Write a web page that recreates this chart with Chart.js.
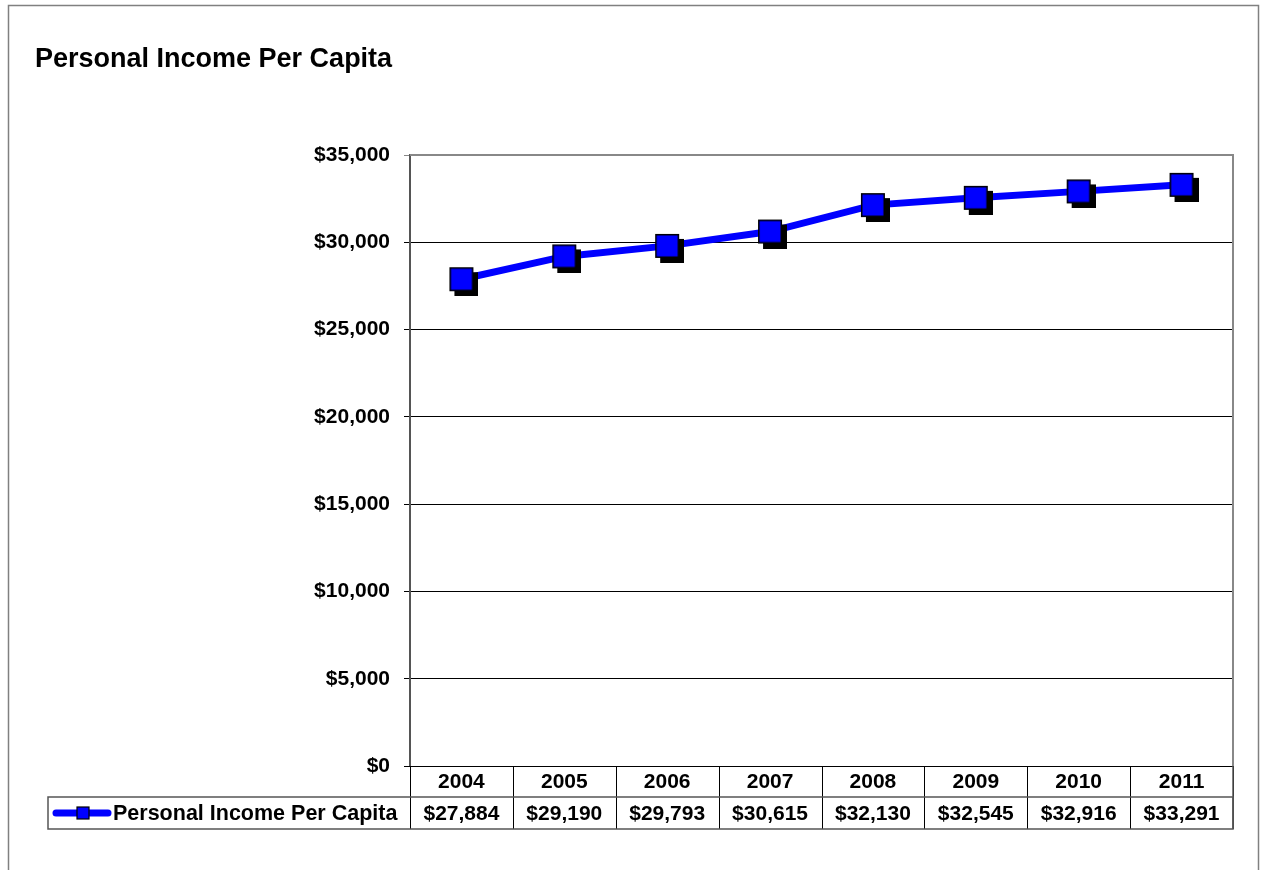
<!DOCTYPE html>
<html>
<head>
<meta charset="utf-8">
<title>Personal Income Per Capita</title>
<script src="https://cdn.jsdelivr.net/npm/chart.js@4.4.1/dist/chart.umd.min.js"></script>
<style>
  body { margin: 0; background: #fff; }
  #wrap { width: 1263px; height: 870px; }
</style>
</head>
<body>
<div id="wrap"><canvas id="incomeChart" width="1263" height="870"></canvas></div>
<script>
const chartTitle = 'Personal Income Per Capita';
const seriesName = 'Personal Income Per Capita';
const years = ['2004', '2005', '2006', '2007', '2008', '2009', '2010', '2011'];
const incomePerCapita = [27884, 29190, 29793, 30615, 32130, 32545, 32916, 33291];

const FONT = '"Liberation Sans", Arial, sans-serif';
const money = v => '$' + Number(v).toLocaleString('en-US');

// square marker with a black drop shadow, centred on the point
function makeMarker(size, shadow) {
  const c = document.createElement('canvas');
  c.width = size + shadow * 2;
  c.height = size + shadow * 2;
  const g = c.getContext('2d');
  g.fillStyle = '#000';
  g.fillRect(shadow * 2, shadow * 2, size, size);
  g.fillStyle = '#0000ff';
  g.fillRect(shadow, shadow, size, size);
  g.strokeStyle = '#000';
  g.lineWidth = 1.5;
  g.strokeRect(shadow + 0.75, shadow + 0.75, size - 1.5, size - 1.5);
  return c;
}
const marker = makeMarker(24, 5);

// frame, title, plot border and the data table under the axis
const tableDecor = {
  id: 'tableDecor',
  afterDraw(chart) {
    const ctx = chart.ctx;
    const area = chart.chartArea;
    const x = chart.scales.x;
    ctx.save();

    ctx.strokeStyle = '#808080';
    ctx.lineWidth = 1.5;
    ctx.strokeRect(8.5, 5.5, 1250, 900);

    ctx.fillStyle = '#000';
    ctx.font = 'bold 27px ' + FONT;
    ctx.textAlign = 'left';
    ctx.textBaseline = 'alphabetic';
    ctx.fillText(chartTitle, 35, 67);

    // top and right edge of the plot
    ctx.strokeStyle = '#888';
    ctx.lineWidth = 2;
    ctx.beginPath();
    ctx.moveTo(area.left, area.top);
    ctx.lineTo(area.right, area.top);
    ctx.lineTo(area.right, area.bottom);
    ctx.stroke();

    const half = (x.getPixelForValue(1) - x.getPixelForValue(0)) / 2;
    const rowTop = area.bottom;
    const rowMid = rowTop + 31;
    const rowBot = rowTop + 63;
    const keyLeft = 48;

    ctx.strokeStyle = '#000';
    ctx.lineWidth = 1;
    for (let i = 0; i <= years.length; i++) {
      const px = Math.round(x.getPixelForValue(i) - half) + 0.5;
      ctx.beginPath();
      ctx.moveTo(px, rowTop);
      ctx.lineTo(px, rowBot);
      ctx.stroke();
    }
    ctx.beginPath();
    ctx.moveTo(area.left - 6, rowTop + 0.5);
    ctx.lineTo(area.right, rowTop + 0.5);
    ctx.stroke();

    ctx.strokeStyle = '#555';
    ctx.lineWidth = 1.5;
    ctx.beginPath();
    ctx.moveTo(area.right, rowTop);
    ctx.lineTo(area.right, rowBot);
    ctx.stroke();
    ctx.strokeRect(keyLeft, rowMid, area.right - keyLeft, rowBot - rowMid);

    ctx.fillStyle = '#000';
    ctx.font = 'bold 21px ' + FONT;
    ctx.textAlign = 'center';
    ctx.textBaseline = 'middle';
    years.forEach((y, i) => {
      const cx = x.getPixelForValue(i);
      ctx.fillText(y, cx, (rowTop + rowMid) / 2 + 1);
      ctx.fillText(money(incomePerCapita[i]), cx, (rowMid + rowBot) / 2 + 1);
    });

    // legend key
    const ky = (rowMid + rowBot) / 2;
    ctx.strokeStyle = '#0000ff';
    ctx.lineWidth = 7;
    ctx.lineCap = 'round';
    ctx.beginPath();
    ctx.moveTo(56, ky);
    ctx.lineTo(108, ky);
    ctx.stroke();
    ctx.fillStyle = '#0000ff';
    ctx.fillRect(77, ky - 6, 12, 12);
    ctx.strokeStyle = '#000';
    ctx.lineWidth = 1.2;
    ctx.strokeRect(77, ky - 6, 12, 12);
    ctx.fillStyle = '#000';
    ctx.font = 'bold 21.5px ' + FONT;
    ctx.textAlign = 'left';
    ctx.fillText(seriesName, 113, ky + 1);

    ctx.restore();
  }
};

new Chart(document.getElementById('incomeChart'), {
  type: 'line',
  data: {
    labels: years,
    datasets: [{
      label: seriesName,
      data: incomePerCapita,
      borderColor: '#0000ff',
      borderWidth: 7,
      tension: 0,
      pointStyle: marker,
      pointRadius: 12,
      pointHoverRadius: 12
    }]
  },
  options: {
    responsive: false,
    animation: false,
    layout: { padding: { left: 0, top: 155, right: 30, bottom: 104 } },
    plugins: {
      legend: { display: false },
      tooltip: { enabled: false }
    },
    scales: {
      x: {
        offset: true,
        grid: { display: false },
        border: { display: false },
        ticks: { display: false },
        afterFit: s => { s.height = 0; }
      },
      y: {
        min: 0,
        max: 35000,
        ticks: {
          stepSize: 5000,
          color: '#000',
          padding: 14,
          font: { family: FONT, size: 21, weight: 'bold' },
          callback: v => money(v)
        },
        grid: {
          color: c => c.tick && c.tick.value === 35000 ? '#888' : '#000',
          lineWidth: 1,
          tickLength: 6
        },
        border: { color: '#555', width: 2 },
        afterFit: s => { s.width = 410; }
      }
    }
  },
  plugins: [tableDecor]
});
</script>
</body>
</html>
